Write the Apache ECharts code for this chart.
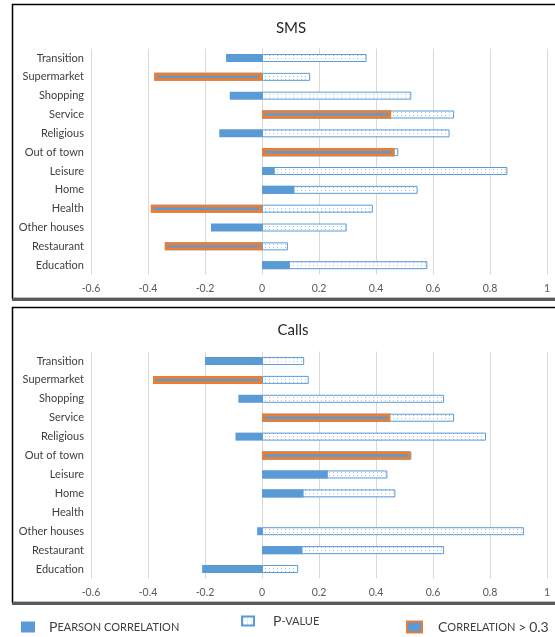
<!DOCTYPE html>
<html>
<head>
<meta charset="utf-8">
<script src="https://cdn.jsdelivr.net/npm/echarts@6/dist/echarts.min.js"></script>
<style>
html,body{margin:0;padding:0;background:#fff;}
#chart{width:555px;height:637px;}
</style>
</head>
<body>
<div id="chart"></div>
<script>
// ---- data ----
const categories = ['Transition','Supermarket','Shopping','Service','Religious','Out of town','Leisure','Home','Health','Other houses','Restaurant','Education'];
const smsPearson = [-0.126,-0.378,-0.113,0.453,-0.150,0.465,0.045,0.114,-0.390,-0.179,-0.341,0.098];
const smsPValue  = [0.367,0.169,0.524,0.674,0.658,0.478,0.861,0.546,0.389,0.297,0.091,0.580];
const callsPearson = [-0.200,-0.382,-0.083,0.450,-0.093,0.521,0.231,0.146,null,-0.017,0.142,-0.210];
const callsPValue  = [0.148,0.164,0.639,0.674,0.786,0.524,0.440,0.468,null,0.919,0.639,0.127];
const xTicks = [-0.6,-0.4,-0.2,0,0.2,0.4,0.6,0.8,1];
const panelTitles = ['SMS','Calls'];
const threshold = 0.3;

// ---- styles ----
const BLUE = '#5B9BD5', ORANGE = '#ED7D31';
const FONT = 'Lato, "Open Sans", sans-serif';
const pc = document.createElement('canvas');
pc.width = 4; pc.height = 3;
const g = pc.getContext('2d');
g.fillStyle = '#ffffff'; g.fillRect(0,0,4,3);
g.fillStyle = '#A8C4E4'; g.fillRect(1,1,1,1);
const pattern = {image: pc, repeat: 'repeat'};

const strong = arr => arr.map(v => (v !== null && Math.abs(v) > threshold) ? v : null);

const grids = [
  {left: 91, right: 8, top: 48.6, height: 226},
  {left: 91, right: 8, top: 351.5, height: 227}
];
const xAxes = [0,1].map(i => ({
  type: 'value', gridIndex: i, min: -0.6, max: 1, interval: 0.2,
  axisLine: {show: false}, axisTick: {show: false},
  splitLine: {lineStyle: {color: '#D9D9D9', width: 1}},
  axisLabel: {color: '#595959', fontSize: 10.5, fontFamily: FONT, margin: 9,
    showMaxLabel: true, showMinLabel: true,
    formatter: v => { const t = xTicks.find(k => Math.abs(k - v) < 1e-6); return t === undefined ? '' : String(t); }}
}));
const yAxes = [0,1].map(i => ({
  type: 'category', gridIndex: i, data: categories, inverse: true,
  axisLine: {show: false}, axisTick: {show: false}, splitLine: {show: false},
  axisLabel: {color: '#404040', fontSize: 11, fontFamily: FONT, margin: 7}
}));

function seriesFor(i, pear, pv) {
  return [
    {name: 'P-value', type: 'bar', xAxisIndex: i, yAxisIndex: i, data: pv, barWidth: 8, barGap: '-100%',
      itemStyle: {color: pattern, borderColor: BLUE, borderWidth: 1}, z: 2, silent: true},
    {name: 'Pearson correlation', type: 'bar', xAxisIndex: i, yAxisIndex: i, data: pear, barWidth: 8, barGap: '-100%',
      itemStyle: {color: BLUE}, z: 3, silent: true},
    {name: 'Correlation > 0.3', type: 'bar', xAxisIndex: i, yAxisIndex: i, data: strong(pear), barWidth: 8, barGap: '-100%',
      itemStyle: {color: BLUE, borderColor: ORANGE, borderWidth: 2.8}, z: 4, silent: true}
  ];
}

const smallCaps = {
  a: {fontSize: 14, color: '#404040', fontFamily: FONT},
  b: {fontSize: 11, color: '#404040', fontFamily: FONT}
};
// small caps: first letter and non-letters at full size, other letters uppercased at small size
function capsFmt(name) {
  let out = '', cur = null, buf = '';
  for (let k = 0; k < name.length; k++) {
    const ch = name[k];
    const big = k === 0 || !/[a-z]/i.test(ch) && ch !== ' ' && ch !== '-';
    const st = big ? 'a' : 'b';
    if (st !== cur && buf) { out += '{' + cur + '|' + buf + '}'; buf = ''; }
    cur = st; buf += ch.toUpperCase();
  }
  if (buf) out += '{' + cur + '|' + buf + '}';
  return out;
}
const legendBase = {orient: 'horizontal', selectedMode: false, formatter: capsFmt, icon: 'rect', padding: 0};
const legendText = pad => ({rich: smallCaps, padding: [0,0,0,pad]});

const option = {
  backgroundColor: '#ffffff',
  animation: false,
  title: [
    {text: panelTitles[0], left: 286, top: 16, textAlign: 'center', textStyle: {fontSize: 15, fontWeight: 'normal', color: '#262626', fontFamily: FONT}},
    {text: panelTitles[1], left: 288, top: 318, textAlign: 'center', textStyle: {fontSize: 15, fontWeight: 'normal', color: '#262626', fontFamily: FONT}}
  ],
  grid: grids,
  xAxis: xAxes,
  yAxis: yAxes,
  series: [...seriesFor(0, smsPearson, smsPValue), ...seriesFor(1, callsPearson, callsPValue)],
  legend: [
    Object.assign({}, legendBase, {data: ['Pearson correlation'], left: 21, top: 620, itemWidth: 14, itemHeight: 11, textStyle: legendText(9)}),
    Object.assign({}, legendBase, {data: ['P-value'], left: 241, top: 614, itemWidth: 12, itemHeight: 9, textStyle: legendText(14)}),
    Object.assign({}, legendBase, {data: ['Correlation > 0.3'], left: 406, top: 620, itemWidth: 15, itemHeight: 11, textStyle: legendText(11)})
  ],
  graphic: [
    {type: 'rect', shape: {x: 12.5, y: 4.5, width: 600, height: 294}, style: {fill: null, stroke: '#000', lineWidth: 1.5}, silent: true, z: 0},
    {type: 'line', shape: {x1: 12, y1: 299.5, x2: 560, y2: 299.5}, style: {stroke: '#5a5a5a', lineWidth: 3}, silent: true, z: 0},
    {type: 'rect', shape: {x: 12.5, y: 307.5, width: 600, height: 295}, style: {fill: null, stroke: '#000', lineWidth: 1.5}, silent: true, z: 0},
    {type: 'line', shape: {x1: 12, y1: 603.5, x2: 560, y2: 603.5}, style: {stroke: '#5a5a5a', lineWidth: 3}, silent: true, z: 0}
  ]
};
const chart = echarts.init(document.getElementById('chart'), null, {renderer: 'canvas'});
chart.setOption(option);
</script>
</body>
</html>
